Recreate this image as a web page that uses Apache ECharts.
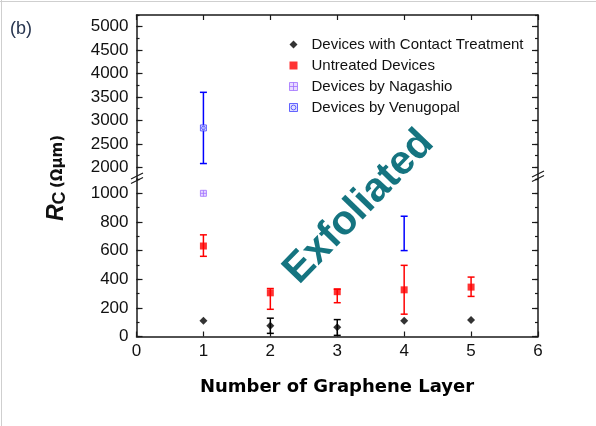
<!DOCTYPE html>
<html>
<head>
<meta charset="utf-8">
<script src="https://cdn.jsdelivr.net/npm/echarts@6/dist/echarts.min.js"></script>
<style>
  html, body { margin: 0; padding: 0; background: #fff; }
  #chart { width: 596px; height: 426px; }
</style>
</head>
<body>
<div id="chart"></div>
<script>
// Contact resistance versus number of graphene layers (exfoliated devices)
const layerTicks = [0, 1, 2, 3, 4, 5, 6];
const upperTicks = [2000, 2500, 3000, 3500, 4000, 4500, 5000];
const lowerTicks = [0, 200, 400, 600, 800, 1000];

// [layers, Rc]
const treatedRc = [[1, 110], [2, 75], [3, 65], [4, 110], [5, 115]];
// [layers, low, high]
const treatedErr = [[2, 22, 128], [3, 8, 118]];

const untreatedRc = [[1, 632], [2, 305], [3, 313], [4, 326], [5, 345]];
const untreatedErr = [[1, 560, 710], [2, 190, 335], [3, 236, 330], [4, 156, 497], [5, 280, 415]];

const nagashioRc = [[1, 1000]];

const venugopalRc = [[1, 2840]];
const venugopalErr = [[1, 2080, 3600], [4, 600, 840]];

// broken y-axis: two stacked panels
const LOWER_MAX = 1100;
const UPPER_MIN = 1750;
const UPPER_MAX = 5250;

const AXIS_COLOR = '#1a1a1a';
const LABEL_FONT = { fontFamily: 'Liberation Sans, Arial, sans-serif', fontSize: 17, color: '#111' };
const plain = v => String(v);

const PLOT_LEFT = 136.5, PLOT_RIGHT = 58;
const UPPER_TOP = 15, BREAK_Y = 179, PLOT_BOTTOM = 336.5;

const chart = echarts.init(document.getElementById('chart'), null, { renderer: 'canvas' });

function yAxisPair(grid, position, min, max, minorStep, majorValues, withLabels) {
  const base = {
    gridIndex: grid, type: 'value', position, min, max,
    splitLine: { show: false }, scale: false
  };
  return [
    Object.assign({}, base, {
      interval: minorStep,
      axisLine: { show: true, lineStyle: { color: AXIS_COLOR, width: 1.5 } },
      axisTick: { show: true, inside: true, length: 3, lineStyle: { color: AXIS_COLOR, width: 1.2 } },
      axisLabel: { show: false }
    }),
    Object.assign({}, base, {
      axisLine: { show: false },
      axisTick: { show: true, inside: true, length: 6, customValues: majorValues,
                  lineStyle: { color: AXIS_COLOR, width: 1.2 } },
      axisLabel: withLabels
        ? Object.assign({ show: true, margin: 8, customValues: majorValues, formatter: plain }, LABEL_FONT)
        : { show: false }
    })
  ];
}

const yAxes = [].concat(
  yAxisPair(0, 'left', UPPER_MIN, UPPER_MAX, 250, upperTicks, true),   // 0,1
  yAxisPair(0, 'right', UPPER_MIN, UPPER_MAX, 250, upperTicks, false), // 2,3
  yAxisPair(1, 'left', 0, LOWER_MAX, 100, lowerTicks, true),           // 4,5
  yAxisPair(1, 'right', 0, LOWER_MAX, 100, lowerTicks, false)          // 6,7
);
const Y_UP = 1, Y_LOW = 5;

const xAxes = [
  {
    gridIndex: 0, type: 'value', position: 'top', min: 0, max: 6, interval: 1,
    axisLine: { show: true, lineStyle: { color: AXIS_COLOR, width: 1.5 } },
    axisTick: { show: true, inside: true, length: 5, lineStyle: { color: AXIS_COLOR, width: 1.2 } },
    axisLabel: { show: false }, splitLine: { show: false }
  },
  {
    gridIndex: 1, type: 'value', position: 'bottom', min: 0, max: 6, interval: 1,
    axisLine: { show: true, onZero: false, lineStyle: { color: AXIS_COLOR, width: 1.5 } },
    axisTick: { show: true, inside: true, length: 5, lineStyle: { color: AXIS_COLOR, width: 1.2 } },
    axisLabel: Object.assign({ show: true, margin: 6, customValues: layerTicks, formatter: plain }, LABEL_FONT),
    splitLine: { show: false }
  }
];

function errorBars(data, color, yIdx) {
  return {
    type: 'custom', xAxisIndex: yIdx === Y_UP ? 0 : 1, yAxisIndex: yIdx,
    data, silent: true, z: 2, clip: false,
    encode: { x: 0, y: [1, 2] },
    renderItem(params, api) {
      const x = api.value(0);
      const lo = api.coord([x, api.value(1)]);
      const hi = api.coord([x, api.value(2)]);
      const w = 3.5;
      const st = { stroke: color, lineWidth: 1.5 };
      return {
        type: 'group',
        children: [
          { type: 'line', shape: { x1: lo[0], y1: lo[1], x2: hi[0], y2: hi[1] }, style: st },
          { type: 'line', shape: { x1: lo[0] - w, y1: lo[1], x2: lo[0] + w, y2: lo[1] }, style: st },
          { type: 'line', shape: { x1: hi[0] - w, y1: hi[1], x2: hi[0] + w, y2: hi[1] }, style: st }
        ]
      };
    }
  };
}

const NAGASHIO_ICON = 'path://M0,0H10V10H0Z M5,0V10 M0,5H10';
const VENUGOPAL_ICON = 'path://M0,0H10V10H0Z M2,5A3,3,0,1,1,8,5A3,3,0,1,1,2,5Z';

const nagashioStyle = { color: '#e2d2ff', borderColor: '#a070ff', borderWidth: 1 };
const venugopalStyle = { color: '#d8d8ff', borderColor: '#4040ff', borderWidth: 1 };

const venuUpperErr = venugopalErr.filter(d => d[1] >= UPPER_MIN);
const venuLowerErr = venugopalErr.filter(d => d[1] < UPPER_MIN);

const option = {
  backgroundColor: '#ffffff',
  animation: false,
  grid: [
    { left: PLOT_LEFT, right: PLOT_RIGHT, top: UPPER_TOP, height: BREAK_Y - UPPER_TOP },
    { left: PLOT_LEFT, right: PLOT_RIGHT, top: BREAK_Y, height: PLOT_BOTTOM - BREAK_Y }
  ],
  xAxis: xAxes,
  yAxis: yAxes,
  legend: {
    orient: 'vertical', left: 284, top: 32, itemGap: 6,
    itemWidth: 8, itemHeight: 8,
    textStyle: { fontFamily: 'Liberation Sans, Arial, sans-serif', fontSize: 15, color: '#111',
                 lineHeight: 14.5, padding: [0, 0, 0, 9] },
    data: [
      { name: 'Devices with Contact Treatment', icon: 'diamond', itemStyle: { color: '#000' } },
      { name: 'Untreated Devices', icon: 'rect', itemStyle: { color: '#ff0000' } },
      { name: 'Devices by Nagashio', icon: NAGASHIO_ICON, itemStyle: nagashioStyle },
      { name: 'Devices by Venugopal', icon: VENUGOPAL_ICON, itemStyle: venugopalStyle }
    ]
  },
  series: [
    errorBars(treatedErr, '#000000', Y_LOW),
    errorBars(untreatedErr, '#ff0000', Y_LOW),
    errorBars(venuUpperErr, '#0000ff', Y_UP),
    errorBars(venuLowerErr, '#0000ff', Y_LOW),
    {
      name: 'Devices with Contact Treatment', type: 'scatter',
      xAxisIndex: 1, yAxisIndex: Y_LOW, data: treatedRc,
      symbol: 'diamond', symbolSize: 8, itemStyle: { color: '#000' }, z: 4
    },
    {
      name: 'Untreated Devices', type: 'scatter',
      xAxisIndex: 1, yAxisIndex: Y_LOW, data: untreatedRc,
      symbol: 'rect', symbolSize: 7, itemStyle: { color: '#ff0000' }, z: 4
    },
    {
      name: 'Devices by Nagashio', type: 'scatter',
      xAxisIndex: 1, yAxisIndex: Y_LOW, data: nagashioRc,
      symbol: NAGASHIO_ICON, symbolSize: 6, itemStyle: nagashioStyle, z: 4
    },
    {
      name: 'Devices by Venugopal', type: 'scatter',
      xAxisIndex: 0, yAxisIndex: Y_UP, data: venugopalRc,
      symbol: VENUGOPAL_ICON, symbolSize: 6, itemStyle: venugopalStyle, z: 4
    }
  ],
  graphic: [
    // outer frame edges
    { type: 'line', shape: { x1: 1.5, y1: 0, x2: 1.5, y2: 426 }, style: { stroke: '#cfcfcf', lineWidth: 1 } },
    { type: 'line', shape: { x1: 0, y1: 1.5, x2: 596, y2: 1.5 }, style: { stroke: '#cfcfcf', lineWidth: 1 } },
    // panel label
    { type: 'text', x: 10, y: 20, style: { text: '(b)', font: '18px Liberation Sans, Arial, sans-serif', fill: '#26344e' } },
    // axis-break marks
    { type: 'line', shape: { x1: 131, y1: 179, x2: 143, y2: 173 }, style: { stroke: AXIS_COLOR, lineWidth: 1.2 } },
    { type: 'line', shape: { x1: 131, y1: 183.5, x2: 143, y2: 177.5 }, style: { stroke: AXIS_COLOR, lineWidth: 1.2 } },
    { type: 'line', shape: { x1: 532, y1: 177, x2: 544, y2: 171 }, style: { stroke: AXIS_COLOR, lineWidth: 1.2 } },
    { type: 'line', shape: { x1: 532, y1: 181.5, x2: 544, y2: 175.5 }, style: { stroke: AXIS_COLOR, lineWidth: 1.2 } },
    // y-axis title
    {
      type: 'text', x: 57, y: 178, rotation: Math.PI / 2,
      style: {
        text: '{r|R}{c|C} {u|(Ωμm)}',
        align: 'center', verticalAlign: 'middle',
        rich: {
          r: { font: 'italic bold 23px Liberation Sans, Arial, sans-serif', fill: '#111' },
          c: { font: 'bold 18px Liberation Sans, Arial, sans-serif', fill: '#111', padding: [6, 0, 0, 0] },
          u: { font: 'bold 15px DejaVu Sans, sans-serif', fill: '#111', padding: [3, 0, 0, 0] }
        }
      }
    },
    // x-axis title
    {
      type: 'text', x: 337, y: 387,
      style: { text: 'Number of Graphene Layer', align: 'center', verticalAlign: 'middle',
               font: 'bold 18px DejaVu Sans, sans-serif', fill: '#000' }
    },
    // annotation
    {
      type: 'text', x: 359, y: 207, rotation: 46 * Math.PI / 180, z: 10,
      style: { text: 'Exfoliated', align: 'center', verticalAlign: 'middle',
               font: 'bold 41px Liberation Sans, Arial, sans-serif', fill: '#157480' }
    }
  ]
};

chart.setOption(option);
</script>
</body>
</html>
